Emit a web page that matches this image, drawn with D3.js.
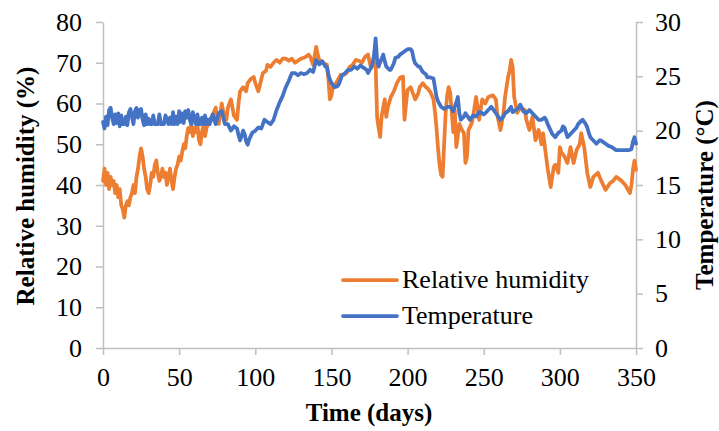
<!DOCTYPE html>
<html>
<head>
<meta charset="utf-8">
<script src="https://cdn.jsdelivr.net/npm/d3@7"></script>
<style>
  html, body { margin: 0; padding: 0; background: #fff; }
  svg { display: block; }
  svg text { font-family: "Liberation Serif", "Times New Roman", Times, serif; fill: #000; }
</style>
</head>
<body>
<svg id="chart" width="719" height="431"></svg>
<script>
// Relative humidity (%) readings: day / value
const rhDays = [0,1,2,3,4,5,6,7,8,9,10,11,12,13,14,15,16,17,18,19,20,21,22,23,24,25,26,27,28,29,30,31,32,33,34,35,36,37,38,39,40,41,42,43,44,45,46,47,48,49,50,51,52,53,54,55,56,57,58,59,60,61,62,63,64,65,66,67,68,70,72,74,75,76,78,79,80,81,82,84,85,86,88,89,90,92,94,95,97,99,100,102,104,105,107,108,110,112,114,116,118,120,122,124,126,128,130,133,135,136,138,140,141,142,144,147,148,149,150,151,153,156,158,160,162,164,166,168,170,172,174,176,178,179,180,181,182,183,185,186,187,189,191,193,195,197,198,199,200,202,204,205,207,208,210,212,213,215,217,218,219,220,221,222,223,224,225,226,227,228,229,230,231,232,233,234,235,237,238,239,240,242,243,245,246,247,249,251,253,256,258,259,261,263,264,266,267,268,269,270,272,274,277,278,280,282,284,286,288,289,291,292,294,295,296,297,299,300,301,303,305,307,309,311,313,314,316,318,320,322,325,327,330,333,335,337,340,343,346,347,348,349,350];
const rhValues = [41,44,40,43,39,42,40,41,38,40,37,39,35,34,32,35,36,35,37,38,40,38,42,44,47,49,47,44,42,39,38,40,43,42,45,46,43,41,42,44,42,43,40,42,44,41,39,42,44,45,47,46,48,50,49,52,54,53,55,52,54,53,55,51,50,53,55,52,54,56,57,59,56,55,60,58,57,56,59,61,59,57,56,60,63,64,63,65,66,66.5,65,63,66,67.5,68,69.5,69,70,70.7,70,71,71,70.5,71,70,70.5,71,71.4,72,71.5,69.5,73.9,72,70.7,70,69.5,66,61,62,64,65,67,67,67.5,69,69.5,70.7,70.5,70,71.4,72,68.7,70,70,56.7,54,51.8,57,61,56.7,59,61.6,63,65,66.3,66.6,56,60,63.3,64,62,61,62.5,64,65,64,63.8,62.8,61,58,54,49,45,42.5,42,50,57.7,62,64,62.6,58,53,58.4,49.3,52,55,54,52.7,45.4,47,53.5,55,56.7,61.6,59,56,61,60,61.6,62,61,57,53.5,57.7,61.6,66.5,68,70.7,69,61.6,57.7,59,58.4,56,53.5,56.7,51,53.5,50,52.7,47,44,39.5,42,44.4,45,43,49.3,48,47,45.4,49.3,45.4,48.6,50,52.7,49.3,43,39.5,42,43,41.2,38.8,40.5,41,42,41.2,40,38,40,43.7,46,43.7];

// Temperature (°C) readings: day / value
const tDays = [0,1,2,3,4,5,6,7,8,9,10,11,12,13,14,15,16,17,18,19,20,21,22,23,24,25,26,27,28,29,30,31,32,33,34,35,36,37,38,39,40,41,42,43,44,45,46,47,48,49,50,51,52,53,54,55,56,57,58,59,60,61,62,63,64,65,66,67,68,69,70,72,74,76,78,79,80,82,84,86,88,89,90,91,92,93,94,95,96,98,100,102,104,106,108,110,112,114,116,118,120,122,124,126,128,130,132,134,136,138,140,142,144,146,147,148,149,150,152,154,155,157,159,161,163,165,167,169,171,173,174,176,177,178,179,180,181,182,184,185,186,188,189,191,192,194,195,197,199,200,202,203,204,205,207,208,210,212,213,215,217,218,219,220,222,224,226,228,230,232,233,234,235,237,238,240,241,243,245,247,248,250,251,253,255,257,258,260,261,263,264,266,268,269,271,273,274,276,278,280,282,284,286,288,290,291,292,294,295,297,299,301,302,303,305,307,309,311,312,314,315,317,318,319,320,322,324,326,327,329,330,332,334,336,337,340,342,345,347,348,349,350];
const tValues = [20.8,20.2,21.3,20.5,21.9,22.1,21.2,20.6,21.5,20.7,21.6,20.4,21.4,20.6,20.6,21.3,20.5,21.7,22.0,21.3,20.6,21.8,22.1,21.2,21.9,22.0,21.0,20.5,21.5,20.6,21.1,20.6,20.6,21.4,20.6,20.6,20.6,21.5,20.6,20.6,20.6,21.4,21.0,20.6,21.2,20.6,21.7,20.6,21.3,20.6,21.8,20.8,21.6,20.7,21.8,21.2,21.9,21.0,20.6,21.7,21.0,20.6,21.5,20.6,20.6,21.2,20.6,21.4,20.6,21.0,20.6,21.5,20.6,21.6,21.8,21.2,20.6,20.6,20.0,20.4,20.2,19.6,19.1,19.5,20.0,19.7,19.0,18.7,19.2,19.8,20.0,20.3,20.2,21.0,20.8,20.6,21.0,21.9,22.6,23.2,24.0,24.6,25.3,25.3,25.1,25.3,25.2,25.3,25.6,25.4,26.5,26.1,26.4,25.9,25.9,25.2,24.7,24.4,24.0,24.1,24.3,25.1,25.3,25.6,25.6,25.9,25.7,26.0,25.8,25.6,25.3,25.8,26.2,27.0,28.5,26.5,25.9,26.3,27.0,26.4,25.9,25.6,25.6,26.2,26.7,26.8,27.0,27.2,27.4,27.5,27.5,27.3,26.6,26.2,25.9,25.9,25.4,25.2,24.9,24.9,24.8,24.0,23.1,22.7,22.2,22.0,22.2,22.2,21.8,22.6,23.1,21.6,21.0,21.3,21.6,21.2,21.0,21.4,21.3,21.7,21.7,21.5,21.6,21.9,22.2,21.8,21.6,21.2,21.0,21.3,21.6,21.8,22.2,21.7,21.9,22.1,22.4,21.8,21.6,21.9,21.6,21.3,21.0,21.0,21.2,21.0,20.6,20.0,19.7,19.4,19.8,20.0,20.4,20.3,19.4,19.7,20.0,20.3,20.6,20.9,21.0,20.6,20.3,19.8,19.4,19.1,18.8,19.1,19.1,18.9,18.8,18.6,18.5,18.3,18.2,18.2,18.2,18.2,18.3,19.0,19.4,18.8];

const xTicks = [0,50,100,150,200,250,300,350];
const rhTicks = [0,10,20,30,40,50,60,70,80];
const tTicks = [0,5,10,15,20,25,30];

const seriesNames = ["Relative humidity", "Temperature"];
const seriesColors = ["#ED7D31", "#4472C4"];

const svg = d3.select("#chart");
const plot = { left: 103, right: 636, top: 22, bottom: 348 };
const axisColor = "#bfbfbf";
const fontFamily = "'Liberation Serif', 'Times New Roman', Times, serif";
const fontSize = "26px";

const x = d3.scaleLinear().domain([0, 350]).range([plot.left, plot.right]);
const yL = d3.scaleLinear().domain([0, 80]).range([plot.bottom, plot.top]);
const yR = d3.scaleLinear().domain([0, 30]).range([plot.bottom, plot.top]);

function styleAxis(g) {
  g.attr("font-family", fontFamily).attr("font-size", fontSize);
  g.select(".domain").attr("stroke", axisColor).attr("stroke-width", 1.5);
  g.selectAll(".tick line").attr("stroke", axisColor).attr("stroke-width", 1.5);
  g.selectAll(".tick text").attr("fill", "#000");
}

// Axes
svg.append("g").attr("transform", `translate(0,${plot.bottom})`)
  .call(d3.axisBottom(x).tickValues(xTicks).tickSize(7).tickPadding(13).tickSizeOuter(0))
  .call(styleAxis);

svg.append("g").attr("transform", `translate(${plot.left},0)`)
  .call(d3.axisLeft(yL).tickValues(rhTicks).tickSize(7).tickPadding(14).tickSizeOuter(0))
  .call(styleAxis);

svg.append("g").attr("transform", `translate(${plot.right},0)`)
  .call(d3.axisRight(yR).tickValues(tTicks).tickSize(7).tickPadding(12).tickSizeOuter(0))
  .call(styleAxis);

// Series lines
const rhData = rhDays.map((d, i) => ({ day: d, v: rhValues[i] }));
const tData = tDays.map((d, i) => ({ day: d, v: tValues[i] }));

const lineRH = d3.line().x(d => x(d.day)).y(d => yL(d.v));
const lineT = d3.line().x(d => x(d.day)).y(d => yR(d.v));

svg.append("path").datum(rhData)
  .attr("d", lineRH).attr("fill", "none")
  .attr("stroke", seriesColors[0]).attr("stroke-width", 3.75)
  .attr("stroke-linejoin", "round").attr("stroke-linecap", "round");

svg.append("path").datum(tData)
  .attr("d", lineT).attr("fill", "none")
  .attr("stroke", seriesColors[1]).attr("stroke-width", 3.75)
  .attr("stroke-linejoin", "round").attr("stroke-linecap", "round");

// Axis titles
svg.append("text")
  .attr("transform", `translate(34,186) rotate(-90)`)
  .attr("text-anchor", "middle")
  .style("font-size", "25px").style("font-weight", "bold")
  .text("Relative humidity (%)");

svg.append("text")
  .attr("transform", `translate(713,195) rotate(-90)`)
  .attr("text-anchor", "middle")
  .style("font-size", "25px").style("font-weight", "bold")
  .text("Temperature (°C)");

svg.append("text")
  .attr("x", 369).attr("y", 421)
  .attr("text-anchor", "middle")
  .style("font-size", "25px").style("font-weight", "bold")
  .text("Time (days)");

// Legend
const legend = svg.append("g").attr("transform", "translate(343,280)");
seriesNames.forEach((name, i) => {
  const row = legend.append("g").attr("transform", `translate(0,${i * 36})`);
  row.append("line").attr("x1", 0).attr("x2", 54).attr("y1", 0).attr("y2", 0)
    .attr("stroke", seriesColors[i]).attr("stroke-width", 3.75).attr("stroke-linecap", "round");
  row.append("text").attr("x", 59).attr("y", 8)
    .style("font-size", fontSize).text(name);
});
</script>
</body>
</html>
